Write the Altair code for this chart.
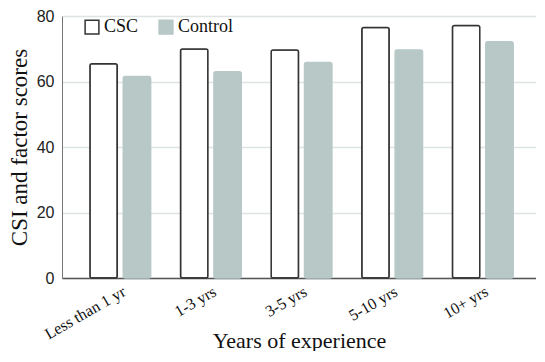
import altair as alt
import pandas as pd

categories = ["Less than 1 yr", "1-3 yrs", "3-5 yrs", "5-10 yrs", "10+ yrs"]
groups = ["CSC", "Control"]
csc_values = [65.4, 69.9, 69.6, 76.5, 77.1]
control_values = [61.5, 63.0, 65.8, 69.6, 72.1]

rows = []
for c, a, b in zip(categories, csc_values, control_values):
    rows.append({"exp": c, "group": "CSC", "score": a})
    rows.append({"exp": c, "group": "Control", "score": b})
df = pd.DataFrame(rows)

serif = "Liberation Serif"
sans = "Liberation Sans"

legend_cfg = dict(
    title=None,
    orient="none",
    legendX=21,
    legendY=2,
    direction="horizontal",
    symbolType="square",
    symbolSize=190,
    symbolStrokeWidth=1.5,
    labelFont=serif,
    labelFontSize=18,
    labelColor="#111",
    labelOffset=3,
    columnPadding=17,
)

chart = alt.Chart(df).mark_bar(strokeWidth=1.5, cornerRadius=2).encode(
    x=alt.X(
        "exp:N",
        sort=categories,
        scale=alt.Scale(paddingInner=0.33, paddingOuter=0.28, align=0.55),
        axis=alt.Axis(
            title="Years of experience",
            titleFont=serif,
            titleFontSize=22,
            titleFontWeight="normal",
            titleColor="#111",
            titleY=52,
            titleBaseline="top",
            labelFont=serif,
            labelFontSize=16,
            labelColor="#111",
            labelAngle=330,
            labelAlign="right",
            labelBaseline="top",
            labelPadding=5,
            ticks=False,
            domainColor="#555",
            domainWidth=1.5,
        ),
    ),
    xOffset=alt.XOffset("group:N", sort=groups,
                        scale=alt.Scale(paddingInner=0.18, paddingOuter=0)),
    y=alt.Y(
        "score:Q",
        scale=alt.Scale(domain=[0, 80]),
        axis=alt.Axis(
            title="CSI and factor scores",
            titleFont=serif,
            titleFontSize=23,
            titleFontWeight="normal",
            titleColor="#111",
            titlePadding=5,
            labelFont=sans,
            labelFontSize=16,
            labelColor="#222",
            labelPadding=8,
            values=[0, 20, 40, 60, 80],
            ticks=False,
            domainColor="#777",
            domainWidth=1,
            gridColor="#dde4e2",
            gridWidth=1.5,
        ),
    ),
    fill=alt.Fill(
        "group:N",
        sort=groups,
        scale=alt.Scale(domain=groups, range=["#ffffff", "#b7c8c7"]),
        legend=alt.Legend(**legend_cfg),
    ),
    stroke=alt.Stroke(
        "group:N",
        sort=groups,
        scale=alt.Scale(domain=groups, range=["#333333", "#b7c8c7"]),
        legend=alt.Legend(**legend_cfg),
    ),
).properties(
    width=474,
    height=262,
    padding={"left": 0, "top": 0, "right": 0, "bottom": 0},
).configure_view(stroke=None).configure_axisX(grid=False)

chart.save("out.html", embed_options={"renderer": "svg", "actions": False})
